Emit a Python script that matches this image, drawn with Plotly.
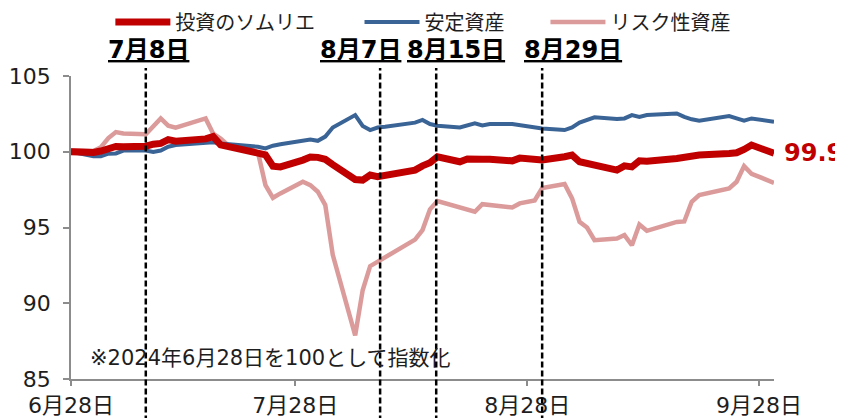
import plotly.graph_objects as go

# ---- data (business days) ----
dates = [
    "2024-06-28", "2024-07-01", "2024-07-02", "2024-07-03", "2024-07-04", "2024-07-05",
    "2024-07-08", "2024-07-09", "2024-07-10", "2024-07-11", "2024-07-12", "2024-07-16",
    "2024-07-17", "2024-07-18", "2024-07-19", "2024-07-22", "2024-07-23", "2024-07-24",
    "2024-07-25", "2024-07-26", "2024-07-29", "2024-07-30", "2024-07-31", "2024-08-01",
    "2024-08-02", "2024-08-05", "2024-08-06", "2024-08-07", "2024-08-08", "2024-08-09",
    "2024-08-13", "2024-08-14", "2024-08-15", "2024-08-16", "2024-08-19", "2024-08-20",
    "2024-08-21", "2024-08-22", "2024-08-23", "2024-08-26", "2024-08-27", "2024-08-28",
    "2024-08-29", "2024-08-30", "2024-09-02", "2024-09-03", "2024-09-04", "2024-09-05",
    "2024-09-06", "2024-09-09", "2024-09-10", "2024-09-11", "2024-09-12", "2024-09-13",
    "2024-09-17", "2024-09-18", "2024-09-19", "2024-09-20", "2024-09-24", "2024-09-25",
    "2024-09-26", "2024-09-27", "2024-09-30",
]

sommelier = [
    100.00, 99.95, 100.05, 100.15, 100.35, 100.33,
    100.37, 100.50, 100.55, 100.80, 100.70, 100.85,
    101.00, 100.45, 100.35, 99.98, 99.90, 99.80,
    99.05, 99.00, 99.45, 99.65, 99.63, 99.50,
    99.15, 98.17, 98.13, 98.46, 98.35, 98.42,
    98.79, 99.07, 99.27, 99.67, 99.34, 99.52,
    99.56, 99.50, 99.50, 99.40, 99.58, 99.50,
    99.45, 99.45, 99.67, 99.78, 99.34, 99.23,
    99.12, 98.79, 99.07, 99.00, 99.40, 99.38,
    99.56, 99.63, 99.71, 99.78, 99.89, 99.93,
    100.15, 100.44, 99.90,
]

stable = [
    100.00, 99.71, 99.71, 99.87, 99.89, 100.08,
    100.08, 99.98, 100.08, 100.33, 100.44, 100.60,
    100.62, 100.55, 100.50, 100.40, 100.33, 100.22,
    100.40, 100.50, 100.73, 100.80, 100.72, 101.00,
    101.60, 102.42, 101.70, 101.43, 101.60, 101.65,
    101.92, 102.10, 101.83, 101.72, 101.60, 101.72,
    101.87, 101.74, 101.83, 101.83, 101.76, 101.70,
    101.60, 101.54, 101.43, 101.60, 101.92, 102.10,
    102.27, 102.16, 102.20, 102.42, 102.30, 102.42,
    102.53, 102.30, 102.14, 102.05, 102.36, 102.20,
    102.05, 102.20, 101.98,
]

risk = [
    100.10, 100.05, 100.30, 100.90, 101.30, 101.20,
    101.15, 101.65, 102.20, 101.72, 101.59, 102.20,
    101.20, 100.88, 100.44, 100.15, 99.95, 97.80,
    96.96, 97.25, 98.02, 97.80, 97.36, 96.48,
    93.20, 87.88, 90.86, 92.45, 92.73, 93.02,
    94.20, 94.83, 96.20, 96.75, 96.30, 96.15,
    96.04, 96.54, 96.50, 96.32, 96.59, 96.70,
    96.78, 97.60, 97.87, 96.92, 95.37, 95.00,
    94.16, 94.27, 94.50, 93.83, 95.20, 94.78,
    95.37, 95.40, 96.70, 97.14, 97.58, 98.02,
    99.05, 98.55, 97.95,
]

series_names = ["投資のソムリエ", "安定資産", "リスク性資産"]

event_dates = ["2024-07-08", "2024-08-08 08:00", "2024-08-15 20:00", "2024-08-30"]
event_labels = ["7月8日", "8月7日", "8月15日", "8月29日"]
event_label_shift = [3, -20, 20, 31]

tick_dates = ["2024-06-28", "2024-07-28", "2024-08-28", "2024-09-28"]
tick_text = ["6月28日", "7月28日", "8月28日", "9月28日"]
y_ticks = [85, 90, 95, 100, 105]

note_text = "※2024年6月28日を100として指数化"

# ---- styling ----
FONT = "DejaVu Sans, Noto Sans CJK JP, sans-serif"
RED = "#C00000"
BLUE = "#3B6496"
PINK = "#DC9B9B"
AXIS = "#8C8C8C"
TXT = "#1E1E1E"

fig = go.Figure()

fig.add_trace(go.Scatter(x=dates, y=risk, name=series_names[2], mode="lines",
                         line=dict(color=PINK, width=4.5), legend="legend3"))
fig.add_trace(go.Scatter(x=dates, y=stable, name=series_names[1], mode="lines",
                         line=dict(color=BLUE, width=4), legend="legend2"))
fig.add_trace(go.Scatter(x=dates, y=sommelier, name=series_names[0], mode="lines",
                         line=dict(color=RED, width=7), legend="legend"))

# event dashed lines
for d in event_dates:
    fig.add_shape(type="line", xref="x", yref="paper", x0=d, x1=d, y0=-0.2, y1=1.026,
                  line=dict(color="black", width=2.5, dash="6px,3px"), layer="above")

for d, lab, sh in zip(event_dates, event_labels, event_label_shift):
    fig.add_annotation(x=d, y=1.086, xref="x", yref="paper", text="<b><u>" + lab + "</u></b>",
                       showarrow=False, xanchor="center", yanchor="middle", xshift=sh,
                       font=dict(family=FONT, size=24, color="black"))

# last value label
fig.add_annotation(x=dates[-1], y=sommelier[-1], xref="x", yref="y",
                   text="<b>%.1f</b>" % sommelier[-1], showarrow=False,
                   xanchor="left", yanchor="middle", xshift=8,
                   font=dict(family=FONT, size=24, color=RED))

# note
fig.add_annotation(x=0.024, y=0.069, xref="paper", yref="paper", text=note_text,
                   showarrow=False, xanchor="left", yanchor="middle",
                   font=dict(family=FONT, size=21, color=TXT))

legend_common = dict(orientation="h", yref="paper", y=1.178, yanchor="middle", xanchor="left",
                     bgcolor="rgba(0,0,0,0)", borderwidth=0, itemwidth=55,
                     font=dict(family=FONT, size=20, color=TXT))

# page body has an 8px margin, so the figure is sized to the visible area
fig.update_layout(
    width=835, height=410,
    margin=dict(l=63, r=69, t=68, b=39, autoexpand=False),
    paper_bgcolor="white", plot_bgcolor="white",
    font=dict(family=FONT, size=22, color=TXT),
    showlegend=True,
    legend=dict(x=0.0560, **legend_common),
    legend2=dict(x=0.4104, **legend_common),
    legend3=dict(x=0.6749, **legend_common),
    xaxis=dict(type="date", range=["2024-06-28", "2024-09-30"],
               tickvals=tick_dates, ticktext=tick_text,
               showline=True, linecolor=AXIS, linewidth=1.5,
               ticks="outside", ticklen=5, tickcolor=AXIS, tickwidth=1.5,
               showgrid=False, zeroline=False,
               tickfont=dict(family=FONT, size=22, color=TXT), ticklabelstandoff=1),
    yaxis=dict(range=[85, 105], tickvals=y_ticks,
               showline=True, linecolor=AXIS, linewidth=1.5,
               ticks="outside", ticklen=6, tickcolor=AXIS, tickwidth=1.5,
               showgrid=False, zeroline=False,
               tickfont=dict(family=FONT, size=22, color=TXT), ticklabelstandoff=8),
)

fig.write_html("out.html")
